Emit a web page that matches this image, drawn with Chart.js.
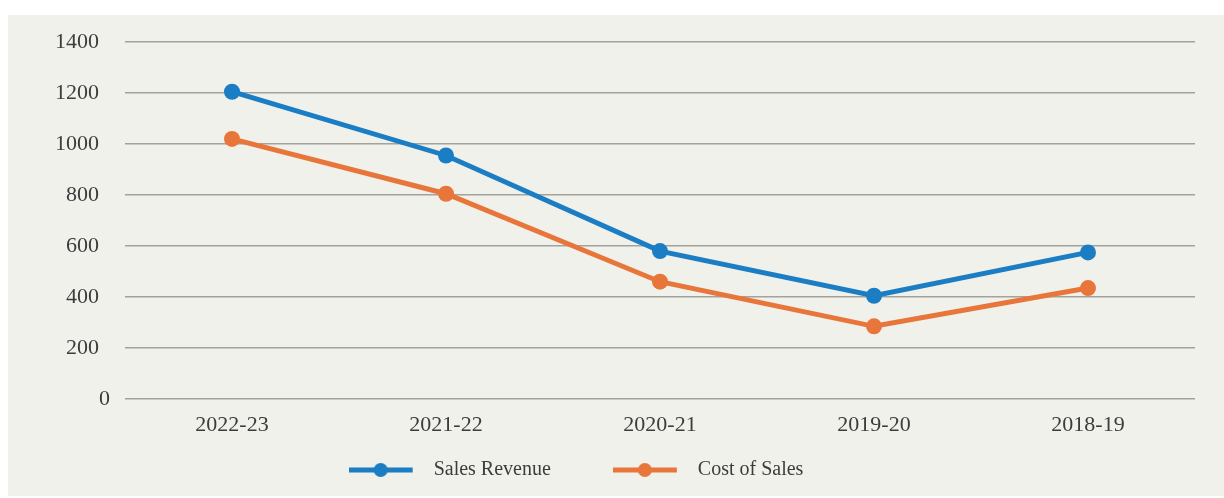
<!DOCTYPE html>
<html>
<head>
<meta charset="utf-8">
<script src="https://cdn.jsdelivr.net/npm/chart.js@4/dist/chart.umd.min.js"></script>
<style>
  html, body { margin: 0; padding: 0; background: #ffffff; }
  #wrap { width: 1224px; height: 498px; }
</style>
</head>
<body>
<div id="wrap"><canvas id="salesChart" width="1224" height="498"></canvas></div>
<script>
const categories = ["2022-23", "2021-22", "2020-21", "2019-20", "2018-19"];
const salesRevenue = [1205, 955, 580, 405, 575];
const costOfSales = [1020, 805, 460, 285, 435];
const yTicks = [0, 200, 400, 600, 800, 1000, 1200, 1400];

const blue = "#1b7dc3";
const orange = "#e8763a";
const textColor = "#3c3c3c";
const fontFamily = "'Liberation Serif', 'Times New Roman', serif";

// legend marker: short line with a dot in the middle
function legendMarker(color) {
  const c = document.createElement("canvas");
  c.width = 75;
  c.height = 16;
  const g = c.getContext("2d");
  g.strokeStyle = color;
  g.lineWidth = 5;
  g.beginPath();
  g.moveTo(0, 8);
  g.lineTo(64, 8);
  g.stroke();
  g.fillStyle = color;
  g.beginPath();
  g.arc(32, 8, 7, 0, Math.PI * 2);
  g.fill();
  return c;
}

// light panel behind the whole chart
const panel = {
  id: "panel",
  beforeDraw(chart) {
    const ctx = chart.ctx;
    ctx.save();
    ctx.fillStyle = "#f1f1ec";
    ctx.fillRect(8, 15, 1216, 481);
    ctx.restore();
  }
};

// the legend's wide item gap also pads it vertically, so lift its top
// back up and pull it a little left of centre
const legendNudge = {
  id: "legendNudge",
  afterLayout(chart) {
    const lg = chart.legend;
    lg.top -= 40;
    lg.height += 40;
    lg.right -= 51;
  }
};

const ctx = document.getElementById("salesChart").getContext("2d");
new Chart(ctx, {
  type: "line",
  data: {
    labels: categories,
    datasets: [
      {
        label: "Sales Revenue",
        data: salesRevenue,
        borderColor: blue,
        backgroundColor: blue,
        borderWidth: 5,
        pointRadius: 8,
        pointHoverRadius: 8,
        pointBackgroundColor: blue,
        pointBorderWidth: 0,
        tension: 0
      },
      {
        label: "Cost of Sales",
        data: costOfSales,
        borderColor: orange,
        backgroundColor: orange,
        borderWidth: 5,
        pointRadius: 8,
        pointHoverRadius: 8,
        pointBackgroundColor: orange,
        pointBorderWidth: 0,
        tension: 0
      }
    ]
  },
  options: {
    responsive: false,
    animation: false,
    layout: { padding: { left: 8, right: 29, top: 42, bottom: 0 } },
    plugins: {
      tooltip: { enabled: false },
      legend: {
        position: "bottom",
        maxHeight: 60,
        labels: {
          usePointStyle: true,
          pointStyleWidth: 75,
          padding: 62,
          color: textColor,
          font: { family: fontFamily, size: 20 },
          generateLabels(chart) {
            return chart.data.datasets.map((ds, i) => ({
              text: ds.label,
              fillStyle: ds.borderColor,
              strokeStyle: ds.borderColor,
              fontColor: textColor,
              pointStyle: legendMarker(ds.borderColor),
              lineWidth: 0,
              hidden: false,
              datasetIndex: i
            }));
          }
        }
      }
    },
    scales: {
      x: {
        offset: true,
        afterFit(scale) { scale.height = 39; },
        grid: { display: false, drawTicks: false },
        border: { display: false },
        ticks: {
          color: textColor,
          padding: 13,
          font: { family: fontFamily, size: 22 }
        }
      },
      y: {
        min: 0,
        max: 1400,
        afterFit(scale) { scale.width = 117; },
        afterBuildTicks(scale) { scale.ticks = yTicks.map(v => ({ value: v })); },
        grid: { color: "#a3a39c", lineWidth: 1.5, drawTicks: false },
        border: { display: false },
        ticks: {
          color: textColor,
          padding: 15,
          font: { family: fontFamily, size: 22 },
          // plain numbers, wider ones sit a little further left
          callback: v => v === 0 ? "0" : String(v) + "  "
        }
      }
    }
  },
  plugins: [panel, legendNudge]
});
</script>
</body>
</html>
